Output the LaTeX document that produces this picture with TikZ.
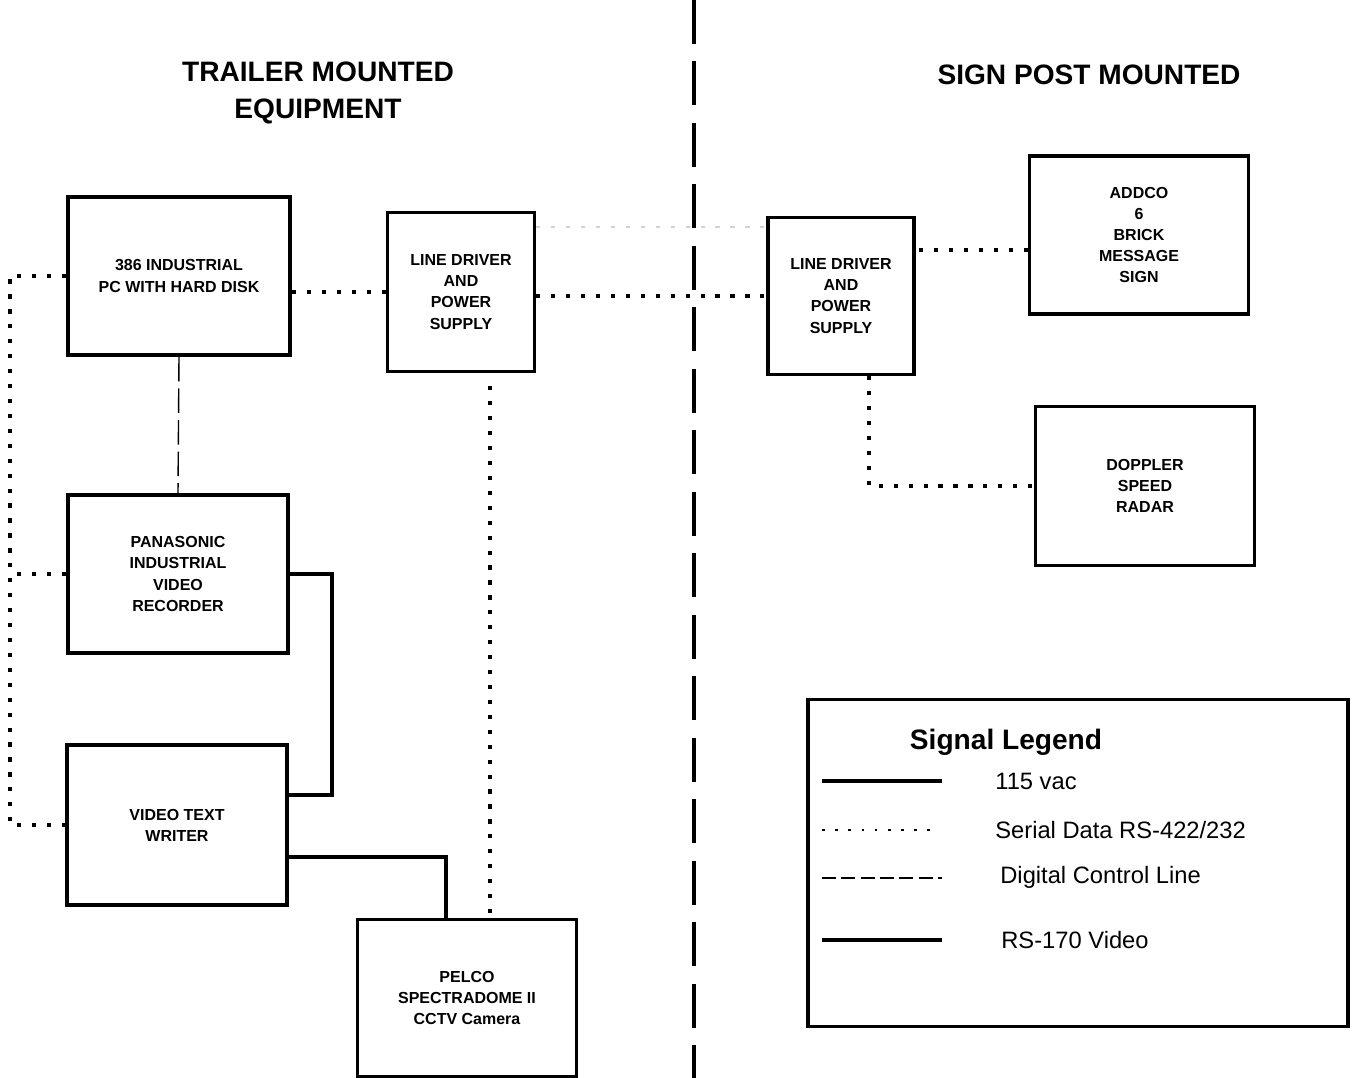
\documentclass[tikz,border=0pt]{standalone}
\usepackage{fontspec}
\setmainfont{Liberation Sans}
\usepackage{tikz}

\begin{document}
\begin{tikzpicture}[x=0.02cm,y=-0.02cm]
        \tikzstyle{every node} = [rectangle]
        \tikzstyle{unit} = [draw, line width=2pt, align=center, inner sep=0pt, font=\bfseries\fontsize{9.1}{12}\selectfont]
        \tikzstyle{heading} = [align=center, font=\bfseries\fontsize{16}{21}\selectfont]
        \tikzstyle{serial} = [line width=2.1pt, dash pattern=on 2.4pt off 6.1pt]
        \tikzstyle{control} = [line width=0.8pt, dash pattern=on 14pt off 4pt]
        \tikzstyle{power} = [line width=2.3pt]
        \tikzstyle{keytext} = [anchor=west, inner sep=0pt, font=\fontsize{13.5}{16}\selectfont]
        \useasboundingbox (0,0) rectangle (1352,1078);

        \node (trailer) at (318,93) [heading] {TRAILER MOUNTED\\EQUIPMENT};
        \node (post) at (1089,75) [heading] {SIGN POST MOUNTED};
        \coordinate (top) at (694,0);
        \coordinate (bot) at (694,1078);
        \draw[line width=2.8pt, dash pattern=on 25pt off 10pt] (top) -- (bot);

        \node (pc) at (179,276) [unit, minimum width=4.44cm, minimum height=3.16cm] {386 INDUSTRIAL\\PC WITH HARD DISK};
        \node (ld1) at (461,292) [unit, minimum width=2.94cm, minimum height=3.18cm] {LINE DRIVER\\AND\\POWER\\SUPPLY};
        \node (ld2) at (841,296) [unit, minimum width=2.92cm, minimum height=3.14cm] {LINE DRIVER\\AND\\POWER\\SUPPLY};
        \node (sign) at (1139,235) [unit, minimum width=4.38cm, minimum height=3.16cm] {ADDCO\\6\\BRICK\\MESSAGE\\SIGN};
        \node (radar) at (1145,486) [unit, minimum width=4.38cm, minimum height=3.18cm] {DOPPLER\\SPEED\\RADAR};
        \node (vcr) at (178,574) [unit, minimum width=4.4cm, minimum height=3.16cm] {PANASONIC\\INDUSTRIAL\\VIDEO\\RECORDER};
        \node (vtw) at (177,825) [unit, minimum width=4.4cm, minimum height=3.2cm] {VIDEO TEXT\\WRITER};
        \node (cam) at (467,998) [unit, minimum width=4.38cm, minimum height=3.14cm] {PELCO\\SPECTRADOME II\\CCTV Camera};

        % serial data
        \coordinate (bus) at (10,0);
        \coordinate (signin) at ([yshift=-0.3cm]sign.west);
        \coordinate (ldout) at ([xshift=0.56cm]ld2.south);
        \coordinate (camin) at ([xshift=0.58cm]ld1.south);
        \draw[serial] (ld1.west) -- (ld1.west -| pc.east);
        \draw[serial] (ld1.east |- ld2.west) -- (ld2.west);
        \draw[serial, gray!35, line width=0.8pt] ([yshift=1.3cm]ld1.east) -- ([yshift=1.3cm]ld1.east -| ld2.west);
        \draw[serial] (signin) -- (signin -| ld2.east);
        \draw[serial] (ldout) |- (radar.west);
        \draw[serial] (pc.west) -- (pc.west -| bus) |- (vtw.west);
        \draw[serial] (vcr.west) -- (vcr.west -| bus);
        \draw[serial] ([yshift=-0.26cm]camin) -- (camin |- cam.north);

        % control and video
        \draw[control] (pc.south) -- (vcr.north);
        \coordinate (vtwin) at ([yshift=0.6cm]vtw.east);
        \coordinate (vtwout) at ([yshift=-0.64cm]vtw.east);
        \coordinate (camvid) at ([xshift=-0.42cm]cam.north);
        \draw[power] (vcr.east) -- ++(42,0) |- (vtwin);
        \draw[power] (vtwout) -| (camvid);

        % legend
        \node (legend) at (1078,863) [draw, line width=2pt, minimum width=10.8cm, minimum height=6.54cm] {};
        \node (lgtitle) at (1006,742) [font=\bfseries\fontsize{16}{19}\selectfont] {Signal Legend};
        \node (k1) at (995,781) [keytext] {115 vac};
        \node (k2) at (995,830) [keytext] {Serial Data RS-422/232};
        \node (k3) at (1000,877) [keytext] {Digital Control Line};
        \node (k4) at (1001,940) [keytext] {RS-170 Video};
        \draw[power, line width=1.8pt] (822,781) -- (942,781);
        \draw[line width=1.1pt, dash pattern=on 1.5pt off 6pt] (822,830) -- (932,830);
        \draw[line width=1pt, dash pattern=on 8pt off 3pt] (822,878) -- (942,878);
        \draw[power, line width=1.8pt] (822,940) -- (942,940);
    \end{tikzpicture}
\end{document}
